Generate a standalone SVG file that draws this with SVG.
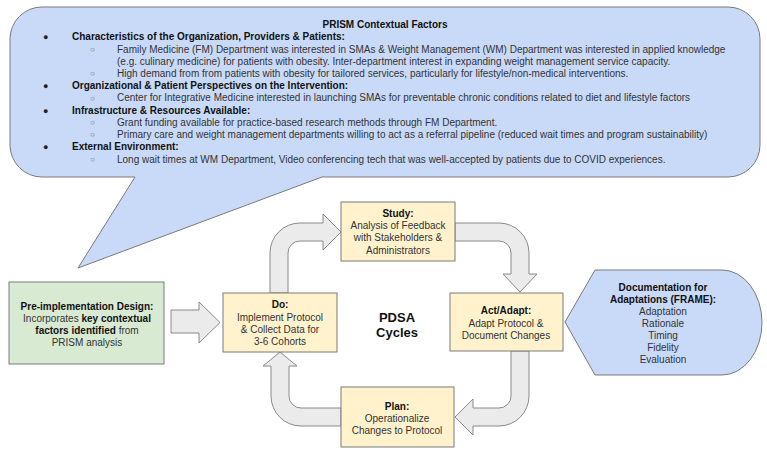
<svg xmlns="http://www.w3.org/2000/svg" width="767" height="455" viewBox="0 0 767 455">
<style>
  text { font-family: "Liberation Sans", Arial, sans-serif; fill: #333; }
  .t { font-size: 10px; }
  .b { font-weight: bold; fill: #111; }
  .c { text-anchor: middle; }
  .bul { font-size: 9px; fill: #222; }
  .sub { font-size: 8px; fill: #666; }
  .box { stroke: #7a7a7a; stroke-width: 1; }
  .yel { fill: #fff2cc; }
  .arrow { fill: #ebebeb; stroke: #8a8a8a; stroke-width: 1; }
</style>
<rect width="767" height="455" fill="#ffffff"/>

<g id="prism-callout">
  <path class="box" fill="#c9daf8" d="M 42 7 H 728 A 32 32 0 0 1 760 39 V 145 A 32 32 0 0 1 728 177 H 322 L 78 268 L 135 177 H 42 A 32 32 0 0 1 10 145 V 39 A 32 32 0 0 1 42 7 Z"/>
  <text class="t b c" x="385" y="28">PRISM Contextual Factors</text>
  <text class="bul" x="43" y="40">●</text>
  <text class="t b" x="72" y="40">Characteristics of the Organization, Providers &amp; Patients:</text>
  <text class="sub" x="90" y="52">○</text>
  <text class="t" x="117" y="52.5">Family Medicine (FM) Department was interested in SMAs &amp; Weight Management (WM) Department was interested in applied knowledge</text>
  <text class="t" x="117" y="64.5">(e.g. culinary medicine) for patients with obesity. Inter-department interest in expanding weight management service capacity.</text>
  <text class="sub" x="90" y="76">○</text>
  <text class="t" x="117" y="76.5">High demand from from patients with obesity for tailored services, particularly for lifestyle/non-medical interventions.</text>
  <text class="bul" x="43" y="88.5">●</text>
  <text class="t b" x="72" y="88.5">Organizational &amp; Patient Perspectives on the Intervention:</text>
  <text class="sub" x="90" y="100.5">○</text>
  <text class="t" x="117" y="101">Center for Integrative Medicine interested in launching SMAs for preventable chronic conditions related to diet and lifestyle factors</text>
  <text class="bul" x="43" y="113.5">●</text>
  <text class="t b" x="72" y="113.5">Infrastructure &amp; Resources Available:</text>
  <text class="sub" x="90" y="125">○</text>
  <text class="t" x="117" y="125.5">Grant funding available for practice-based research methods through FM Department.</text>
  <text class="sub" x="90" y="137">○</text>
  <text class="t" x="117" y="137.5">Primary care and weight management departments willing to act as a referral pipeline (reduced wait times and program sustainability)</text>
  <text class="bul" x="43" y="150">●</text>
  <text class="t b" x="72" y="150">External Environment:</text>
  <text class="sub" x="90" y="162">○</text>
  <text class="t" x="117" y="162.5">Long wait times at WM Department, Video conferencing tech that was well-accepted by patients due to COVID experiences.</text>
</g>

<g id="connectors">
  <path class="arrow" d="M 171 310 H 199 V 302 L 220 322.5 L 199 343 V 333 H 171 Z"/>
  <path class="arrow" d="M 270 293 V 253 A 30 30 0 0 1 300 223 H 323 V 214 L 341 232 L 323 250 V 241 H 300 A 12 12 0 0 0 288 253 V 293 Z"/>
  <path class="arrow" d="M 455 223 H 499 A 30 30 0 0 1 529 253 V 274 H 537 L 520 292 L 503 274 H 511 V 253 A 12 12 0 0 0 499 241 H 455 Z"/>
  <path class="arrow" d="M 511 351 H 529 V 396 A 30 30 0 0 1 499 426 H 473 V 435 L 455 417 L 473 399 V 408 H 499 A 12 12 0 0 0 511 396 Z"/>
  <path class="arrow" d="M 341 408 H 301 A 12 12 0 0 1 289 396 V 366 H 297 L 280 352 L 263 366 H 271 V 396 A 30 30 0 0 0 301 426 H 341 Z"/>
</g>

<g id="pre-implementation">
  <rect class="box" fill="#d9ead3" x="9" y="282" width="155" height="82"/>
  <text class="t c" x="87" y="310"><tspan class="b">Pre-implementation Design:</tspan></text>
  <text class="t c" x="87" y="322">Incorporates <tspan class="b">key contextual</tspan></text>
  <text class="t c" x="87" y="334"><tspan class="b">factors identified</tspan> from</text>
  <text class="t c" x="87" y="346">PRISM analysis</text>
</g>

<g id="do">
  <rect class="box yel" x="223" y="293" width="114" height="59"/>
  <text class="t b c" x="280" y="308">Do:</text>
  <text class="t c" x="280" y="320.5">Implement Protocol</text>
  <text class="t c" x="280" y="332.5">&amp; Collect Data for</text>
  <text class="t c" x="280" y="345">3-6 Cohorts</text>
</g>

<g id="study">
  <rect class="box yel" x="341" y="202" width="114" height="59"/>
  <text class="t b c" x="398" y="217">Study:</text>
  <text class="t c" x="398" y="229">Analysis of Feedback</text>
  <text class="t c" x="398" y="241">with Stakeholders &amp;</text>
  <text class="t c" x="398" y="253.5">Administrators</text>
</g>

<g id="act-adapt">
  <rect class="box yel" x="450" y="293" width="113" height="58"/>
  <text class="t b c" x="506" y="314">Act/Adapt:</text>
  <text class="t c" x="506" y="326.5">Adapt Protocol &amp;</text>
  <text class="t c" x="506" y="339">Document Changes</text>
</g>

<g id="plan">
  <rect class="box yel" x="341" y="387" width="113" height="60"/>
  <text class="t b c" x="397" y="410">Plan:</text>
  <text class="t c" x="397" y="422">Operationalize</text>
  <text class="t c" x="397" y="434">Changes to Protocol</text>
</g>

<g id="pdsa-label">
  <text class="b c" x="397" y="322" font-size="13">PDSA</text>
  <text class="b c" x="397" y="337" font-size="13">Cycles</text>
</g>

<g id="frame-documentation">
  <path class="box" fill="#c9daf8" d="M 565 322 L 595 270 H 722 A 40 52.5 0 0 1 722 375 H 595 Z"/>
  <text class="t b c" x="663" y="291">Documentation for</text>
  <text class="t b c" x="663" y="303">Adaptations (FRAME):</text>
  <text class="t c" x="663" y="315">Adaptation</text>
  <text class="t c" x="663" y="327">Rationale</text>
  <text class="t c" x="663" y="339">Timing</text>
  <text class="t c" x="663" y="351">Fidelity</text>
  <text class="t c" x="663" y="363">Evaluation</text>
</g>
</svg>
